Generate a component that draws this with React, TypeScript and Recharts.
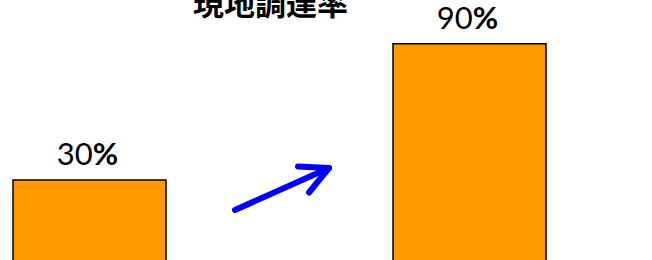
import { BarChart, Bar, XAxis, YAxis, LabelList } from "recharts";

const CATEGORIES = ["現状", "目標"];
const RATES = [30, 90];
const AXIS_MIN = -7;
const AXIS_MAX = 100;
const TITLE = "現地調達率";

const data = CATEGORIES.map((name, i) => ({
  name,
  value: RATES[i],
  range: [AXIS_MIN, RATES[i]],
}));

const FONT = "Lato, 'Noto Sans', sans-serif";

function BoundaryTick(props: any) {
  const { x, y, payload, index } = props;
  if (index !== 0) return <g />;
  const bx = x + (payload?.offset ?? 0);
  return <line x1={bx} x2={bx} y1={y - 9} y2={y} stroke="#000" strokeWidth={1} />;
}

function RateLabel(props: any) {
  const { x, y, width, value } = props;
  return (
    <text
      x={x + width / 2 - 2}
      y={y - 15}
      textAnchor="middle"
      fontFamily={FONT}
      fontSize={31}
      fill="#000"
    >
      <tspan>{value}</tspan>
      <tspan fontWeight={700}>%</tspan>
    </text>
  );
}

export default function App() {
  return (
    <div style={{ position: "absolute", left: 0, top: 0, width: 652, height: 260, overflow: "hidden", background: "#fff" }}>
      <div style={{ position: "absolute", left: -101, top: 0 }}>
        <BarChart
          width={760}
          height={270}
          data={data}
          margin={{ top: 21, right: 0, bottom: 6, left: 0 }}
        >
          <XAxis
            dataKey="name"
            height={0}
            axisLine={{ stroke: "#000" }}
            tickLine={false}
            tickSize={0}
            tickMargin={0}
            tick={<BoundaryTick />}
            interval={0}
          />
          <YAxis hide width={0} domain={[AXIS_MIN, AXIS_MAX]} allowDataOverflow />
          <Bar
            dataKey="range"
            fill="#FF9900"
            stroke="#000"
            strokeWidth={1.5}
            barSize={153}
            isAnimationActive={false}
          >
            <LabelList dataKey="value" content={<RateLabel />} />
          </Bar>
        </BarChart>
      </div>
      <div
        style={{
          position: "absolute",
          left: 193,
          top: -14,
          width: 155,
          height: 31,
          lineHeight: "31px",
          fontSize: 31,
          fontWeight: 700,
          fontFamily: "'Noto Sans CJK JP', sans-serif",
          textAlign: "center",
          whiteSpace: "nowrap",
          color: "#000",
        }}
      >
        {TITLE}
      </div>
      <svg style={{ position: "absolute", left: 0, top: 0 }} width={652} height={260}>
        <g stroke="#0000FF" strokeWidth={6} strokeLinecap="round" strokeLinejoin="round" fill="none">
          <line x1={235} y1={210} x2={329} y2={168} />
          <polyline points="298,166.5 329,168 309,192.5" />
        </g>
      </svg>
    </div>
  );
}
